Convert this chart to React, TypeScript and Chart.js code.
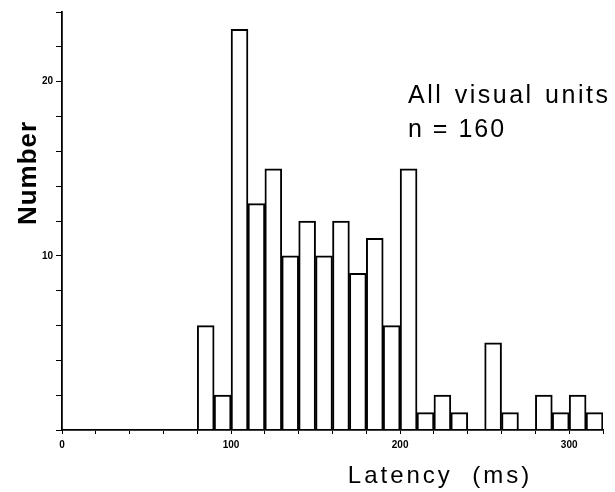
import React, { useEffect, useRef } from "react";
import { Chart, registerables } from "chart.js";

Chart.register(...registerables);

// ---- data ----
const binStarts = [80, 90, 100, 110, 120, 130, 140, 150, 160, 170, 180, 190, 200, 210, 220, 230, 240, 250, 260, 270, 280, 290, 300, 310];
const binWidth = 10;
const counts = [6, 2, 23, 13, 15, 10, 12, 10, 12, 9, 11, 6, 15, 1, 2, 1, 0, 5, 1, 0, 2, 1, 2, 1];
const xTickLabels = [0, 100, 200, 300];
const yTickLabels = [10, 20];
const xTitle = "Latency  (ms)";
const yTitle = "Number";
const noteLines = ["All visual units", "n = 160"];

const textPlugin = {
  id: "texts",
  afterDraw(chart: any) {
    const ctx = chart.ctx as CanvasRenderingContext2D;
    ctx.save();
    ctx.fillStyle = "#000";
    ctx.textBaseline = "alphabetic";

    // annotation
    ctx.font = '25px "Liberation Sans"';
    (ctx as any).letterSpacing = "2.5px";
    (ctx as any).wordSpacing = "2px";
    ctx.textAlign = "left";
    ctx.fillText(noteLines[0], 408, 103);
    (ctx as any).letterSpacing = "2px";
    (ctx as any).wordSpacing = "0px";
    ctx.fillText(noteLines[1], 408, 137);

    // x title
    ctx.font = '24px "Liberation Sans"';
    (ctx as any).letterSpacing = "3px";
    ctx.textAlign = "center";
    ctx.fillText(xTitle, 440, 483);

    // y title
    ctx.save();
    ctx.translate(36, 173);
    ctx.rotate(-Math.PI / 2);
    ctx.font = 'bold 26px "Liberation Sans"';
    (ctx as any).letterSpacing = "1px";
    ctx.textAlign = "center";
    ctx.fillText(yTitle, 0, 0);
    ctx.restore();

    ctx.restore();
  },
};

export default function App() {
  const ref = useRef<HTMLCanvasElement | null>(null);

  useEffect(() => {
    if (!ref.current) return;
    const chart = new Chart(ref.current, {
      type: "bar",
      data: {
        datasets: [
          {
            data: binStarts.map((s, i) => ({ x: s + binWidth / 2, y: counts[i] })),
            backgroundColor: "rgba(255,255,255,0)",
            borderColor: "#000",
            borderWidth: 1.3,
            borderSkipped: "bottom",
            barPercentage: 1,
            categoryPercentage: 1,
          } as any,
        ],
      },
      options: {
        animation: false,
        responsive: false,
        layout: { padding: { left: 0, top: 12, right: 12, bottom: 0 } },
        plugins: {
          legend: { display: false },
          tooltip: { enabled: false },
        },
        scales: {
          x: {
            type: "linear",
            min: 0,
            max: 320,
            offset: false,
            grid: { drawOnChartArea: false, drawTicks: true, tickLength: 4, color: "#000", offset: false },
            border: { display: true, color: "#000", width: 1.8 },
            ticks: {
              stepSize: 20,
              autoSkip: false,
              maxRotation: 0,
              padding: 5,
              color: "#000",
              font: { family: '"Liberation Sans"', size: 10, weight: "bold" },
              callback: (v: any) => (xTickLabels.includes(Number(v)) ? String(v) : ""),
            },
            afterFit: (s: any) => {
              s.height = 62;
            },
          },
          y: {
            min: 0,
            max: 24,
            grid: { drawOnChartArea: false, drawTicks: true, tickLength: 6, color: "#000" },
            border: { display: true, color: "#000", width: 1.8 },
            ticks: {
              stepSize: 2,
              autoSkip: false,
              padding: 3,
              color: "#000",
              font: { family: '"Liberation Sans"', size: 10, weight: "bold" },
              callback: (v: any) => (yTickLabels.includes(Number(v)) ? String(v) : ""),
            },
            afterFit: (s: any) => {
              s.width = 62;
            },
          },
        },
      } as any,
      plugins: [textPlugin],
    });
    return () => chart.destroy();
  }, []);

  return (
    <div style={{ position: "fixed", left: 0, top: 0, width: 615, height: 492, background: "#fff" }}>
      <canvas ref={ref} width={615} height={492} style={{ display: "block" }} />
    </div>
  );
}
